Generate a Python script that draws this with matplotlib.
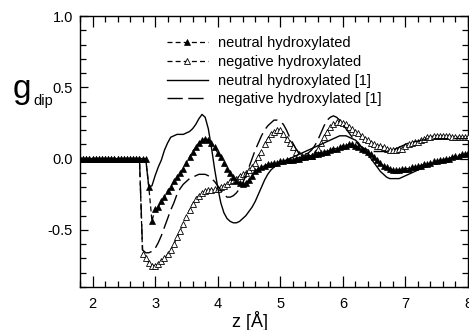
import numpy as np
import matplotlib
matplotlib.use("Agg")
import matplotlib.pyplot as plt

plt.rcParams['font.family'] = ['Liberation Sans', 'DejaVu Sans']
plt.rcParams['axes.unicode_minus'] = False

# sampling grid in z [Å]
z = np.linspace(1.8, 8.0, 125)

neutral = [0, 0, 0, 0,
    0, 0, 0, 0, 0, 0, 0, 0, 0, 0, 0, 0, 0, 0, 0, 0, 0, 0, -0.20, -0.44,
    -0.35, -0.34, -0.30, -0.27, -0.23, -0.20, -0.16, -0.13, -0.10, -0.07, -0.03, 0.01, 0.05, 0.08, 0.11, 0.13, 0.14, 0.13, 0.11, 0.08,
    0.04, 0.01, -0.03, -0.07, -0.10, -0.13, -0.16, -0.17, -0.18, -0.17, -0.15, -0.12, -0.09, -0.07, -0.06, -0.05, -0.04, -0.04, -0.03, -0.03,
    -0.02, -0.02, -0.01, -0.01, -0.01, 0.00, 0.00, 0.01, 0.01, 0.02, 0.02, 0.03, 0.03, 0.04, 0.05, 0.05, 0.06, 0.07, 0.07, 0.08,
    0.09, 0.09, 0.10, 0.10, 0.09, 0.08, 0.07, 0.06, 0.05, 0.03, 0.01, -0.01, -0.03, -0.05, -0.06, -0.07, -0.08, -0.08, -0.08, -0.07,
    -0.07, -0.07, -0.06, -0.06, -0.05, -0.05, -0.04, -0.04, -0.03, -0.02, -0.02, -0.01, -0.01, 0.00, 0.00, 0.01, 0.02, 0.02, 0.03, 0.03,
    0.04]

negative = [0, 0, 0, 0,
    0, 0, 0, 0, 0, 0, 0, 0, 0, 0, 0, 0, 0, 0, 0, 0, -0.67, -0.70, -0.73, -0.75,
    -0.75, -0.74, -0.72, -0.70, -0.67, -0.64, -0.60, -0.55, -0.51, -0.46, -0.41, -0.36, -0.32, -0.28, -0.26, -0.24, -0.23, -0.22, -0.22, -0.21,
    -0.21, -0.20, -0.19, -0.18, -0.16, -0.15, -0.14, -0.12, -0.11, -0.10, -0.08, -0.06, -0.03, 0.01, 0.05, 0.10, 0.14, 0.17, 0.19, 0.20,
    0.20, 0.17, 0.14, 0.11, 0.08, 0.05, 0.03, 0.02, 0.02, 0.02, 0.02, 0.04, 0.07, 0.11, 0.15, 0.19, 0.22, 0.24, 0.26, 0.26,
    0.25, 0.24, 0.22, 0.21, 0.19, 0.18, 0.16, 0.14, 0.13, 0.11, 0.10, 0.09, 0.09, 0.08, 0.07, 0.06, 0.06, 0.06, 0.07, 0.07,
    0.09, 0.10, 0.11, 0.12, 0.12, 0.13, 0.14, 0.15, 0.15, 0.16, 0.16, 0.16, 0.16, 0.16, 0.16, 0.15, 0.15, 0.15, 0.15, 0.15,
    0.15]

neutral_ref = [0, 0, 0, 0,
    0, 0, 0, 0, 0, 0, 0, 0, 0, 0, 0, 0, 0, 0, 0, 0, 0, 0, -0.20, -0.19,
    -0.12, -0.06, -0.01, 0.06, 0.11, 0.15, 0.16, 0.17, 0.17, 0.17, 0.18, 0.19, 0.21, 0.24, 0.28, 0.31, 0.29, 0.21, 0.08, -0.07,
    -0.20, -0.31, -0.38, -0.42, -0.44, -0.45, -0.45, -0.44, -0.42, -0.40, -0.37, -0.34, -0.30, -0.25, -0.20, -0.15, -0.11, -0.08, -0.06, -0.04,
    -0.03, -0.02, -0.01, 0.00, 0.01, 0.02, 0.03, 0.04, 0.05, 0.06, 0.07, 0.08, 0.09, 0.10, 0.11, 0.12, 0.13, 0.14, 0.15, 0.16,
    0.16, 0.16, 0.15, 0.14, 0.13, 0.11, 0.08, 0.06, 0.03, 0.00, -0.03, -0.06, -0.09, -0.11, -0.13, -0.14, -0.14, -0.14, -0.14, -0.13,
    -0.12, -0.11, -0.10, -0.09, -0.08, -0.07, -0.06, -0.05, -0.04, -0.03, -0.03, -0.02, -0.01, -0.01, 0.00, 0.00, 0.01, 0.01, 0.02, 0.02,
    0.03]

negative_ref = [0, 0, 0, 0,
    0, 0, 0, 0, 0, 0, 0, 0, 0, 0, 0, 0, 0, 0, 0, 0, -0.64, -0.66, -0.66, -0.65,
    -0.63, -0.59, -0.54, -0.48, -0.42, -0.36, -0.31, -0.25, -0.21, -0.18, -0.16, -0.14, -0.13, -0.12, -0.11, -0.11, -0.11, -0.12, -0.14, -0.16,
    -0.19, -0.22, -0.25, -0.27, -0.27, -0.26, -0.24, -0.21, -0.17, -0.12, -0.06, 0.00, 0.06, 0.11, 0.16, 0.20, 0.23, 0.25, 0.27, 0.27,
    0.26, 0.24, 0.20, 0.15, 0.11, 0.07, 0.04, 0.03, 0.03, 0.04, 0.06, 0.09, 0.13, 0.18, 0.23, 0.27, 0.29, 0.30, 0.29, 0.27,
    0.24, 0.21, 0.18, 0.15, 0.12, 0.10, 0.08, 0.07, 0.06, 0.05, 0.05, 0.05, 0.05, 0.05, 0.05, 0.06, 0.06, 0.07, 0.08, 0.09,
    0.10, 0.11, 0.11, 0.12, 0.12, 0.13, 0.13, 0.14, 0.14, 0.14, 0.14, 0.14, 0.14, 0.14, 0.14, 0.14, 0.14, 0.14, 0.14, 0.14,
    0.14]

labels = ["neutral hydroxylated", "negative hydroxylated",
          "neutral hydroxylated [1]", "negative hydroxylated [1]"]
x_ticks = [2, 3, 4, 5, 6, 7, 8]
y_ticks = [-0.5, 0.0, 0.5, 1.0]

fig = plt.figure(figsize=(4.69, 3.30), dpi=100)
ax = fig.add_axes([80/469, 1-287/330, 388/469, 271/330])

ax.plot(z, neutral, color='black', lw=0.9, ls=(0, (4, 2.5)), marker='^', ms=4.4,
        mfc='black', mec='black', mew=0.5, label=labels[0], zorder=4)
ax.plot(z, negative, color='black', lw=0.9, ls=(0, (4, 2.5)), marker='^', ms=4.4,
        mfc='white', mec='black', mew=0.6, label=labels[1], zorder=3)
ax.plot(z, neutral_ref, color='black', lw=1.0, ls='-', label=labels[2], zorder=5)
ax.plot(z, negative_ref, color='black', lw=1.0, ls=(0, (11, 4)), label=labels[3], zorder=5)

ax.set_xlim(1.8, 8.0)
ax.set_ylim(-0.9, 1.0)
ax.set_xticks(x_ticks)
ax.set_yticks(y_ticks)
ax.set_xticklabels([str(t) for t in x_ticks])
ax.set_yticklabels(["%.1f" % t for t in y_ticks])
ax.set_xticks(np.arange(1.8, 8.01, 0.2), minor=True)
ax.set_yticks(np.arange(-0.9, 1.001, 0.1), minor=True)

ax.tick_params(axis='both', which='both', direction='in', top=True, right=True,
               labelsize=10.5, colors='black', width=0.9)
ax.tick_params(axis='x', which='major', length=8, pad=7)
ax.tick_params(axis='x', which='minor', length=4.5)
ax.tick_params(axis='y', which='major', length=6, pad=5)
ax.tick_params(axis='y', which='minor', length=4)
for s in ax.spines.values():
    s.set_linewidth(1.0)

leg = ax.legend(loc='upper left', bbox_to_anchor=((167-80)/388, (287-36)/271),
                frameon=False, fontsize=10.5, handlelength=2.8, handletextpad=0.7,
                labelspacing=0.33, borderpad=0, borderaxespad=0)

fig.text(13/469, 1-98/330, "g", fontsize=24, va='baseline', ha='left')
fig.text(33/469, 1-105/330, "dip", fontsize=10.5, va='baseline', ha='left')
fig.text(232/469, 1-327/330, "z [Å]", fontsize=13, va='baseline', ha='left')

fig.savefig("out.png", dpi=100)
